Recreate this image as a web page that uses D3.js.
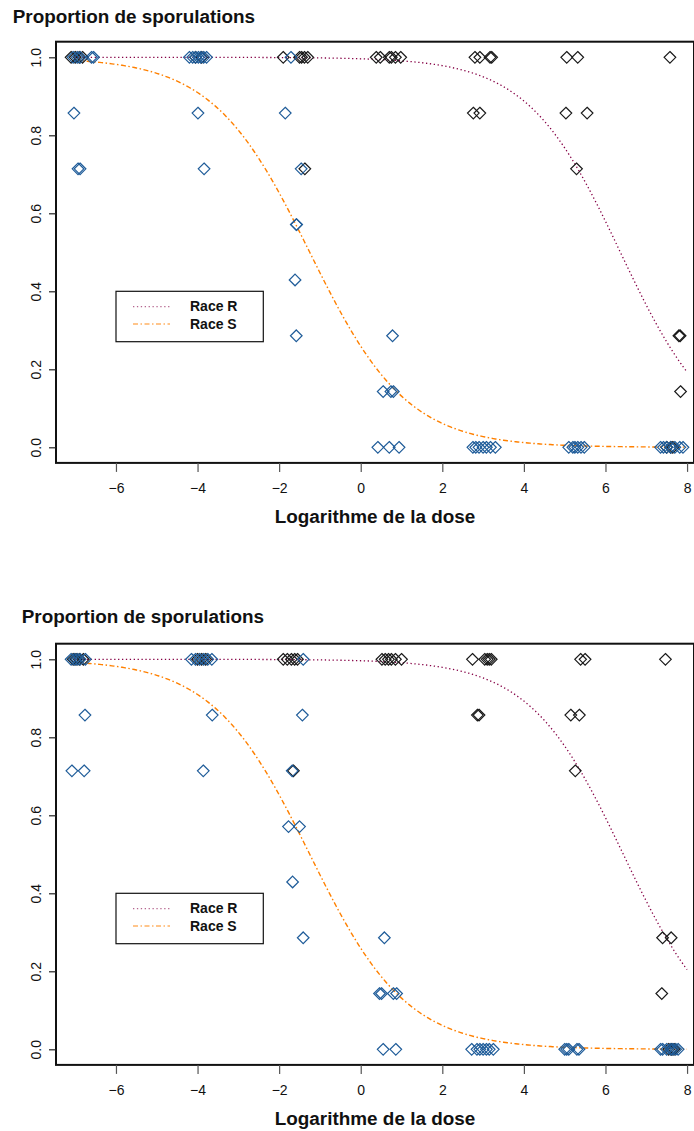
<!DOCTYPE html>
<html>
<head>
<meta charset="utf-8">
<script src="https://cdn.jsdelivr.net/npm/d3@7"></script>
<style>
  html, body { margin: 0; padding: 0; background: #fff; }
  svg { display: block; }
  text { font-family: "Liberation Sans", Arial, Helvetica, sans-serif; fill: #111; }
</style>
</head>
<body>
<script>
// ---- Data -------------------------------------------------------------
const xTicks = [-6, -4, -2, 0, 2, 4, 6, 8];
const yTicks = [0, 0.2, 0.4, 0.6, 0.8, 1.0];
const legendLabels = ["Race R", "Race S"];

// Panel 1 — race S (blue diamonds)
const p1S_dose = [-7.05, -6.95, -6.88, -6.6, -6.55, -4.2, -4.12, -4.05, -3.98, -3.92, -3.85, -3.78, -1.71,
  -7.03, -3.99, -1.85,
  -6.93, -6.88, -3.84, -1.46,
  -1.58, -1.57,
  -1.61,
  -1.58, 0.78,
  0.55, 0.74, 0.8,
  0.42, 0.7, 0.94, 2.75, 2.82, 2.9, 3.0, 3.08, 3.18, 3.3, 5.1, 5.2, 5.25, 5.32, 5.4, 5.48,
  7.35, 7.42, 7.5, 7.6, 7.7, 7.82, 7.9];
const p1S_prop = [1, 1, 1, 1, 1, 1, 1, 1, 1, 1, 1, 1, 1,
  0.857, 0.857, 0.857,
  0.714, 0.714, 0.714, 0.714,
  0.571, 0.571,
  0.429,
  0.286, 0.286,
  0.143, 0.143, 0.143,
  0, 0, 0, 0, 0, 0, 0, 0, 0, 0, 0, 0, 0, 0, 0, 0,
  0, 0, 0, 0, 0, 0, 0];

// Panel 1 — race R (black diamonds)
const p1R_dose = [-7.1, -7.0, -6.9, -6.82, -4.05, -3.9, -1.9, -1.5, -1.45, -1.38, -1.3,
  0.38, 0.48, 0.7, 0.75, 0.85, 0.98, 2.8, 2.92, 3.17, 3.21, 5.05, 5.32, 7.58,
  2.76, 2.92, 5.03, 5.55,
  -1.37, 5.29,
  7.8, 7.83,
  7.84,
  7.5, 7.6, 7.65];
const p1R_prop = [1, 1, 1, 1, 1, 1, 1, 1, 1, 1, 1,
  1, 1, 1, 1, 1, 1, 1, 1, 1, 1, 1, 1, 1,
  0.857, 0.857, 0.857, 0.857,
  0.714, 0.714,
  0.286, 0.286,
  0.143,
  0, 0, 0];

// Panel 2 — race S (blue diamonds)
const p2S_dose = [-7.1, -7.02, -6.95, -6.88, -6.75, -4.15, -4.05, -3.95, -3.85, -3.75, -3.65, -1.41,
  -6.76, -3.64, -1.43,
  -7.08, -6.78, -3.86, -1.68,
  -1.77, -1.5,
  -1.67,
  -1.41, 0.58,
  0.46, 0.51, 0.8, 0.88,
  0.55, 0.86, 2.72, 2.85, 2.92, 3.0, 3.08, 3.15, 3.25, 5.0, 5.05, 5.1, 5.3, 5.35,
  7.35, 7.4, 7.5, 7.6, 7.65, 7.72, 7.78];
const p2S_prop = [1, 1, 1, 1, 1, 1, 1, 1, 1, 1, 1, 1,
  0.857, 0.857, 0.857,
  0.714, 0.714, 0.714, 0.714,
  0.571, 0.571,
  0.429,
  0.286, 0.286,
  0.143, 0.143, 0.143, 0.143,
  0, 0, 0, 0, 0, 0, 0, 0, 0, 0, 0, 0, 0, 0,
  0, 0, 0, 0, 0, 0, 0];

// Panel 2 — race R (black diamonds)
const p2R_dose = [-7.05, -6.98, -6.9, -6.8, -4.0, -3.9, -3.8, -1.9, -1.8, -1.7, -1.62, -1.55,
  0.52, 0.6, 0.68, 0.75, 0.85, 1.0, 2.74, 3.04, 3.1, 3.15, 3.2, 5.39, 5.5, 7.47,
  2.86, 2.9, 5.15, 5.36,
  -1.65, 5.26,
  7.4, 7.61,
  7.38,
  7.55, 7.62, 7.68];
const p2R_prop = [1, 1, 1, 1, 1, 1, 1, 1, 1, 1, 1, 1,
  1, 1, 1, 1, 1, 1, 1, 1, 1, 1, 1, 1, 1, 1,
  0.857, 0.857, 0.857, 0.857,
  0.714, 0.714,
  0.286, 0.286,
  0.143,
  0, 0, 0];

// Fitted logistic curves: [intercept, slope] on the logit scale
const p1R_fit = [5.57, -0.875];
const p1S_fit = [-1.05, -0.84];
const p2R_fit = [5.60, -0.87];
const p2S_fit = [-1.05, -0.84];
const curveRange = [-7.0, 8.0];

// ---- Layout -----------------------------------------------------------
const W = 694, H = 1131;
const colS = "#1f5c99", colR = "#1a1a1a";
const lineR = "#850045", lineS = "#ff8000";

const svg = d3.select("body").append("svg")
  .attr("width", W).attr("height", H);

const x = d3.scaleLinear().domain([-7.47, 8.17]).range([56, 694]);
const y = d3.scaleLinear().domain([-0.04, 1.04]).range([462.9, 41.7]);

function logistic(b, v) { return 1 / (1 + Math.exp(-(b[0] + b[1] * v))); }

function diamond(cx, cy, r) {
  return `M${cx},${cy - r}L${cx + r},${cy}L${cx},${cy + r}L${cx - r},${cy}Z`;
}

function drawPanel(offsetY, titleX, titleY, S_dose, S_prop, R_dose, R_prop, fitR, fitS) {
  const g = svg.append("g").attr("transform", `translate(0,${offsetY})`);

  // title
  svg.append("text")
    .attr("x", titleX).attr("y", titleY)
    .style("font-size", "18.9px").style("font-weight", "bold")
    .text("Proportion de sporulations");

  // curves
  const grid = d3.range(curveRange[0], curveRange[1] + 1e-9, 0.05);
  const line = d3.line().x(d => x(d[0])).y(d => y(d[1]));
  g.append("path")
    .attr("d", line(grid.map(v => [v, logistic(fitR, v)])))
    .attr("fill", "none").attr("stroke", lineR).attr("stroke-width", 1.3)
    .attr("stroke-dasharray", "1.3,2.6");
  g.append("path")
    .attr("d", line(grid.map(v => [v, logistic(fitS, v)])))
    .attr("fill", "none").attr("stroke", lineS).attr("stroke-width", 1.4)
    .attr("stroke-dasharray", "5,2.5,1.5,2.5");

  // points: race R then race S
  g.append("g").selectAll("path")
    .data(R_dose.map((d, i) => [d, R_prop[i]]))
    .join("path")
    .attr("d", d => diamond(x(d[0]), y(d[1]), 5.8))
    .attr("fill", "none").attr("stroke", colR).attr("stroke-width", 1.2);
  g.append("g").selectAll("path")
    .data(S_dose.map((d, i) => [d, S_prop[i]]))
    .join("path")
    .attr("d", d => diamond(x(d[0]), y(d[1]), 5.8))
    .attr("fill", "none").attr("stroke", colS).attr("stroke-width", 1.2);

  // box
  g.append("rect")
    .attr("x", x.range()[0]).attr("y", y.range()[1])
    .attr("width", x.range()[1] - x.range()[0])
    .attr("height", y.range()[0] - y.range()[1])
    .attr("fill", "none").attr("stroke", "#111").attr("stroke-width", 2);

  // x axis
  const xa = g.append("g")
    .attr("transform", `translate(0,${y.range()[0]})`)
    .call(d3.axisBottom(x).tickValues(xTicks).tickSize(9).tickFormat(d3.format("d")));
  xa.select(".domain").remove();
  xa.selectAll(".tick line").attr("stroke", "#555").attr("stroke-width", 1.2);
  xa.selectAll(".tick text")
    .attr("y", 30.5).attr("dy", 0)
    .style("font-size", "14px").style("font-family", "Liberation Sans, Arial, sans-serif")
    .attr("fill", "#111");

  // y axis
  const ya = g.append("g")
    .attr("transform", `translate(${x.range()[0]},0)`)
    .call(d3.axisLeft(y).tickValues(yTicks).tickSize(7).tickFormat(d3.format(".1f")));
  ya.select(".domain").remove();
  ya.selectAll(".tick line").attr("stroke", "#222").attr("stroke-width", 1.2);
  ya.selectAll(".tick text")
    .attr("x", null).attr("dy", null)
    .attr("text-anchor", "middle")
    .attr("transform", "translate(-15.3,0) rotate(-90)")
    .style("font-size", "14px").style("font-family", "Liberation Sans, Arial, sans-serif")
    .attr("fill", "#111");

  // x axis title
  g.append("text")
    .attr("x", (x.range()[0] + x.range()[1]) / 2).attr("y", 522.7)
    .attr("text-anchor", "middle")
    .style("font-size", "18.9px").style("font-weight", "bold")
    .text("Logarithme de la dose");

  // legend
  const lg = g.append("g");
  lg.append("rect")
    .attr("x", 116).attr("y", 291.3).attr("width", 147.3).attr("height", 50.4)
    .attr("fill", "#fff").attr("stroke", "#111").attr("stroke-width", 1.2);
  const legendStyles = [
    { stroke: lineR, dash: "1.3,2.6", y: 306.7 },
    { stroke: lineS, dash: "5,2.5,1.5,2.5", y: 324 }
  ];
  legendLabels.forEach((lab, i) => {
    const s = legendStyles[i];
    lg.append("line")
      .attr("x1", 133).attr("x2", 170).attr("y1", s.y).attr("y2", s.y)
      .attr("stroke", s.stroke).attr("stroke-width", 1.2).attr("stroke-dasharray", s.dash)
      .attr("opacity", i === 0 ? 0.6 : 0.9);
    lg.append("text")
      .attr("x", 190).attr("y", s.y + 4.7)
      .style("font-size", "14px").style("font-weight", "bold")
      .text(lab);
  });
}

drawPanel(0, 12.7, 22.5, p1S_dose, p1S_prop, p1R_dose, p1R_prop, p1R_fit, p1S_fit);
drawPanel(602, 21.7, 622.7, p2S_dose, p2S_prop, p2R_dose, p2R_prop, p2R_fit, p2S_fit);
</script>
</body>
</html>
